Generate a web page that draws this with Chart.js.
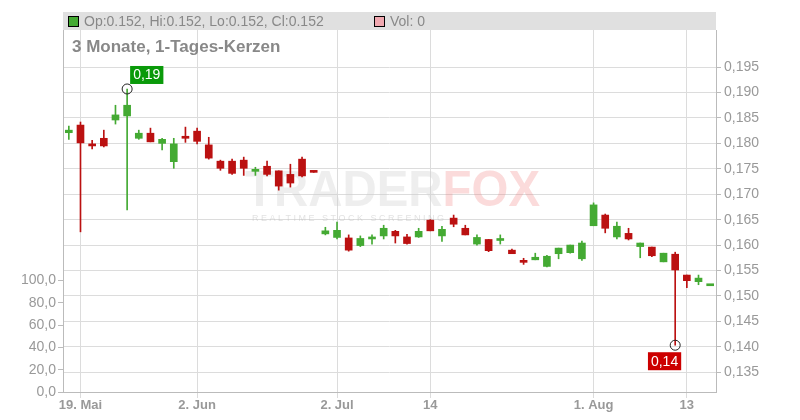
<!DOCTYPE html>
<html><head><meta charset="utf-8">
<script src="https://cdn.jsdelivr.net/npm/chart.js@4/dist/chart.umd.min.js"></script>
<style>html,body{margin:0;padding:0;background:#fff}#w{width:800px;height:420px}</style>
</head><body><div id="w"><canvas id="c"></canvas></div>
<script>
const labels = ['','19. Mai','','','','','','','','','','2. Jun','','','','','','','','','','','','2. Jul','','','','','','','','14','','','','','','','','','','','','','','1. Aug','','','','','','','','13','',''];
const opens  = [.1821,.1836,.1799,.1810,.1846,.1854,.1810,.1820,.1800,.1764,.1814,.1824,.1797,.1765,.1765,.1767,.1745,.1755,.1746,.1739,.1769,.1745,.1622,.1615,.1614,.1599,.1612,.1618,.1627,.1616,.1616,.1649,.1618,.1653,.1633,.1602,.1611,.1609,.1590,.1570,.1571,.1558,.1583,.1585,.1573,.1638,.1659,.1616,.1623,.1597,.1596,.1567,.1582,.1541,.1528,.1520];
const highs  = [.1834,.1842,.1806,.1826,.1875,.1907,.1826,.1830,.1810,.1810,.1832,.1830,.1812,.1767,.1769,.1773,.1753,.1765,.1746,.1759,.1773,.1745,.1635,.1645,.1620,.1618,.1620,.1639,.1629,.1621,.1633,.1650,.1637,.1659,.1639,.1620,.1611,.1620,.1592,.1574,.1584,.1580,.1594,.1600,.1608,.1683,.1661,.1645,.1633,.1604,.1596,.1584,.1586,.1541,.1541,.1520];
const lows   = [.1808,.1626,.1789,.1793,.1838,.1669,.1808,.1803,.1787,.1751,.1802,.1799,.1769,.1747,.1739,.1737,.1737,.1736,.1708,.1714,.1734,.1743,.1620,.1612,.1588,.1597,.1602,.1612,.1604,.1602,.1615,.1628,.1607,.1636,.1620,.1600,.1587,.1602,.1583,.1562,.1571,.1557,.1573,.1584,.1570,.1638,.1624,.1612,.1610,.1575,.1577,.1567,.1403,.1516,.1522,.1520];
const closes = [.1826,.1801,.1795,.1795,.1856,.1875,.1820,.1803,.1808,.1799,.1810,.1804,.1771,.1751,.1741,.1751,.1746,.1739,.1716,.1722,.1736,.1743,.1628,.1629,.1590,.1613,.1613,.1633,.1618,.1603,.1627,.1628,.1631,.1641,.1620,.1615,.1589,.1610,.1583,.1566,.1576,.1578,.1594,.1600,.1604,.1679,.1633,.1637,.1612,.1604,.1579,.1584,.1551,.1530,.1535,.1520];
const volumes = labels.map(()=>0);
const priceTicks = [.135,.14,.145,.15,.155,.16,.165,.17,.175,.18,.185,.19,.195];
const volTicks = [0,20,40,60,80,100];
const GREEN='#44aa33', RED='#bb1111';
const col = opens.map((o,i)=>closes[i]>=o?GREEN:RED);
const fmt=(v,d)=>v.toFixed(d).replace('.',',');
const iHi = highs.indexOf(Math.max(...highs)), iLo = lows.indexOf(Math.min(...lows));

const deco = {
  id:'deco',
  beforeDatasetsDraw(ch){
    const c=ch.ctx;
    c.save();
    c.font='bold 50px "Liberation Sans"'; c.textBaseline='middle';
    const w1=c.measureText('TRADER').width, w2=c.measureText('FOX').width;
    const s=295/(w1+w2);
    c.translate(245,192); c.scale(s,1);
    c.fillStyle='rgba(205,205,205,0.35)'; c.fillText('TRADER',0,0);
    c.fillStyle='rgba(240,110,110,0.25)'; c.fillText('FOX',w1,0);
    c.setTransform(1,0,0,1,0,0);
    c.restore(); c.save();
    c.font='9px "Liberation Sans"'; c.fillStyle='rgba(190,190,190,0.45)'; c.textBaseline='middle';
    c.fillText('R E A L T I M E   S T O C K   S C R E E N I N G',252,219);
    c.restore();
  },
  afterDraw(ch){
    const c=ch.ctx, x=ch.scales.x, y=ch.scales.y;
    c.save();
    c.fillStyle='#e0e0e0'; c.fillRect(63,12,653,18);
    c.strokeStyle='#000'; c.lineWidth=1;
    c.fillStyle=GREEN; c.fillRect(68.5,16.5,10,10); c.strokeRect(68.5,16.5,10,10);
    c.fillStyle='#f0a8b0'; c.fillRect(374.5,16.5,10,10); c.strokeRect(374.5,16.5,10,10);
    c.font='14px "Liberation Sans"'; c.fillStyle='#888'; c.textBaseline='middle';
    const last=opens.length-1;
    c.fillText(`Op:${opens[last].toFixed(3)}, Hi:${highs[last].toFixed(3)}, Lo:${lows[last].toFixed(3)}, Cl:${closes[last].toFixed(3)}`,84,22);
    c.fillText('Vol: 0',390,22);
    c.font='bold 17px "Liberation Sans"'; c.fillText('3 Monate, 1-Tages-Kerzen',72,47);
    const mk=(i,v,bg,txt,above)=>{
      const px=x.getPixelForValue(i), py=y.getPixelForValue(v);
      c.beginPath(); c.arc(px,py,5,0,Math.PI*2); c.strokeStyle='#222'; c.lineWidth=1; c.stroke();
      c.font='14px "Liberation Sans"';
      const w=c.measureText(txt).width+6;
      const bx= above? px+3 : px-w+6, by = above? py-23 : py+7;
      c.fillStyle=bg; c.fillRect(bx,by,w,18);
      c.fillStyle='#fff'; c.fillText(txt,bx+3,by+9.5);
    };
    mk(iHi,highs[iHi],'#0a9a0a',fmt(0.19,2),true);
    mk(iLo,lows[iLo],'#cc0000',fmt(0.14,2),false);
    c.restore();
  }
};

new Chart(document.getElementById('c'),{
  data:{labels,datasets:[
    {type:'bar',data:labels.map((_,i)=>[lows[i],highs[i]]),backgroundColor:col,barThickness:1,grouped:false,yAxisID:'y',order:2},
    {type:'bar',data:labels.map((_,i)=>[opens[i],closes[i]]),backgroundColor:col,barThickness:7,minBarLength:2,grouped:false,yAxisID:'y',order:1},
    {type:'bar',data:volumes,backgroundColor:'#f0a8b0',yAxisID:'v',grouped:false}
  ]},
  options:{
    responsive:true,maintainAspectRatio:false,animation:false,
    layout:{padding:{top:30,left:0,right:0,bottom:0}},
    plugins:{legend:{display:false},tooltip:{enabled:false}},
    scales:{
      x:{offset:true,
        grid:{offset:false,color:(ctx)=>labels[ctx.index]?'#dcdcdc':'rgba(0,0,0,0)',tickLength:6},
        border:{color:'#bbb'},
        ticks:{autoSkip:false,maxRotation:0,color:'#999',font:{family:'Liberation Sans',size:13,weight:'bold'},padding:0},
        afterFit(s){s.height=28;}
      },
      y:{position:'right',min:0.1311,max:0.2023,
        afterBuildTicks(s){s.ticks=priceTicks.map(v=>({value:v}));},
        grid:{color:'#dcdcdc',tickLength:5,tickColor:'#bbb'},
        border:{color:'#bbb'},
        ticks:{color:'#999',font:{family:'Liberation Sans',size:14},padding:3,callback:v=>fmt(v,3)},
        afterFit(s){s.width=84;}
      },
      v:{position:'left',min:0,max:325,
        afterBuildTicks(s){s.ticks=volTicks.map(v=>({value:v}));},
        grid:{drawOnChartArea:false,tickLength:5,tickColor:'#bbb'},
        border:{color:'#bbb'},
        ticks:{color:'#999',font:{family:'Liberation Sans',size:14},padding:2,callback:v=>fmt(v,1)},
        afterFit(s){s.width=63;}
      }
    }
  },
  plugins:[deco]
});
</script></body></html>
